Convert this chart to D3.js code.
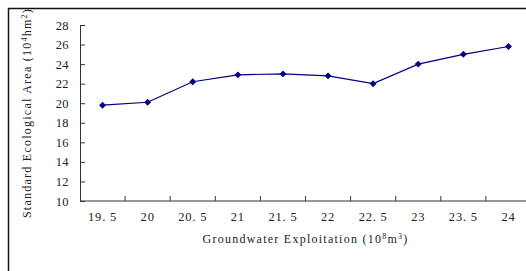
<!DOCTYPE html>
<html>
<head>
<meta charset="utf-8">
<script src="https://cdn.jsdelivr.net/npm/d3@7"></script>
<style>
  html, body { margin: 0; padding: 0; background: #fff; }
  svg { display: block; }
  text { font-family: "Liberation Serif", "DejaVu Serif", serif; fill: #222; }
</style>
</head>
<body>
<svg id="chart" width="526" height="271"></svg>
<script>
'use strict'

/****** DATA ******/

const categories = ['19. 5', '20', '20. 5', '21', '21. 5', '22', '22. 5', '23', '23. 5', '24']
const areaValues = [19.8, 20.1, 22.2, 22.9, 23.0, 22.8, 22.0, 24.0, 25.0, 25.8]
const yTicks = [10, 12, 14, 16, 18, 20, 22, 24, 26, 28]

/****** CHART ******/

const svg = d3.select('#chart')

// outer frame (runs off the right and bottom of the picture)
svg.append('rect')
  .attr('x', 8.5).attr('y', 8.5)
  .attr('width', 540).attr('height', 280)
  .attr('fill', 'none')
  .attr('stroke', '#111')
  .attr('stroke-width', 1.5)

const margin = {left: 80, right: 531, top: 25, bottom: 201}

const x = d3.scaleBand()
  .domain(categories)
  .range([margin.left, margin.right])

const y = d3.scaleLinear()
  .domain([10, 28])
  .range([margin.bottom, margin.top])

// y axis
const yAxis = svg.append('g')
  .attr('transform', `translate(${margin.left},0)`)
  .call(d3.axisRight(y).tickValues(yTicks).tickSize(5).tickFormat(d3.format('d')))
yAxis.select('.domain').attr('stroke', '#333')
yAxis.selectAll('.tick line').attr('stroke', '#333')
yAxis.selectAll('.tick text')
  .attr('x', -11)
  .attr('text-anchor', 'end')
  .attr('font-size', 12.5)
  .attr('letter-spacing', 0.4)
  .style('font-family', '"Liberation Serif", serif')

// x axis: ticks sit between categories, pointing up
const xAxis = svg.append('g')
  .attr('transform', `translate(0,${margin.bottom})`)
xAxis.append('line')
  .attr('x1', margin.left).attr('x2', margin.right)
  .attr('stroke', '#333')
xAxis.selectAll('.tick')
  .data(categories)
  .join('line')
    .attr('class', 'tick')
    .attr('x1', d => x(d) + x.bandwidth())
    .attr('x2', d => x(d) + x.bandwidth())
    .attr('y1', 0).attr('y2', -5)
    .attr('stroke', '#333')
xAxis.selectAll('.lbl')
  .data(categories)
  .join('text')
    .attr('class', 'lbl')
    .attr('x', d => x(d) + x.bandwidth() / 2)
    .attr('y', 20)
    .attr('text-anchor', 'middle')
    .attr('font-size', 12.5)
    .attr('letter-spacing', 0.8)
    .text(d => d)

// axis titles
const yTitle = svg.append('text')
  .attr('transform', 'translate(31,113) rotate(-90)')
  .attr('text-anchor', 'middle')
  .attr('font-size', 12)
  .attr('letter-spacing', 1.25)
yTitle.append('tspan').text('Standard Ecological Area (10')
yTitle.append('tspan').attr('dy', -4).attr('font-size', 8).text('4')
yTitle.append('tspan').attr('dy', 4).text('hm')
yTitle.append('tspan').attr('dy', -4).attr('font-size', 8).text('2')
yTitle.append('tspan').attr('dy', 4).text(')')

const xTitle = svg.append('text')
  .attr('x', (margin.left + margin.right) / 2)
  .attr('y', 243)
  .attr('text-anchor', 'middle')
  .attr('font-size', 12)
  .attr('letter-spacing', 1.25)
xTitle.append('tspan').text('Groundwater Exploitation (10')
xTitle.append('tspan').attr('dy', -4).attr('font-size', 8).text('8')
xTitle.append('tspan').attr('dy', 4).text('m')
xTitle.append('tspan').attr('dy', -4).attr('font-size', 8).text('3')
xTitle.append('tspan').attr('dy', 4).text(')')

// series
const pts = categories.map((c, i) => ({cat: c, value: areaValues[i]}))

const line = d3.line()
  .x(d => x(d.cat) + x.bandwidth() / 2)
  .y(d => y(d.value))

svg.append('path')
  .datum(pts)
  .attr('fill', 'none')
  .attr('stroke', '#000080')
  .attr('stroke-width', 1.2)
  .attr('d', line)

svg.selectAll('.marker')
  .data(pts)
  .join('path')
    .attr('class', 'marker')
    .attr('transform', d => `translate(${x(d.cat) + x.bandwidth() / 2},${y(d.value)}) rotate(45)`)
    .attr('d', d3.symbol(d3.symbolSquare, 24))
    .attr('fill', '#000080')
</script>
</body>
</html>
